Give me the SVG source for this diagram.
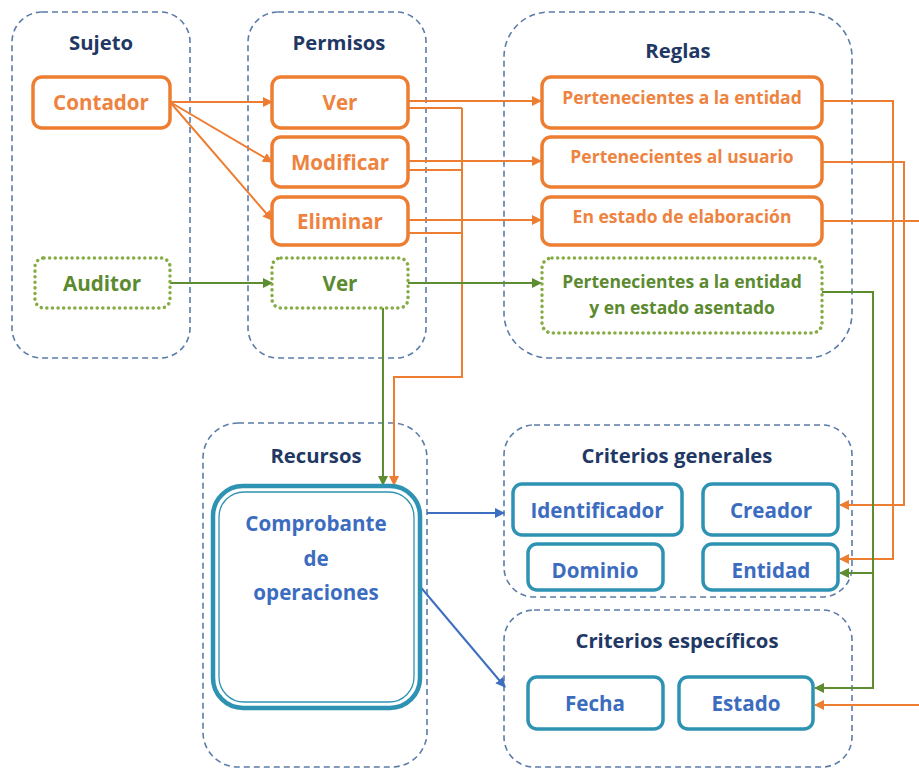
<svg xmlns="http://www.w3.org/2000/svg" width="919" height="769" viewBox="0 0 919 769">
<style>
text{font-family:"Open Sans",Lato,"Liberation Sans",sans-serif;font-weight:bold;text-anchor:middle;dominant-baseline:central}
.cont{fill:none;stroke:#5b7ca8;stroke-width:1.6;stroke-dasharray:6 4}
.title{fill:#1f3864;font-size:20.3px}
.on{fill:#fff;stroke:#ed7d31;stroke-width:3.5}
.ot{fill:#ee8340;font-size:20.6px}
.ot2{fill:#ee8340;font-size:17.5px}
.gn{fill:#fff;stroke:#86ad45;stroke-width:3.5;stroke-dasharray:0.1 5.5;stroke-linecap:round}
.gt{fill:#5b8a2f;font-size:20.6px}
.gt2{fill:#5b8a2f;font-size:17.5px}
.tn{fill:#fff;stroke:#2e92b3;stroke-width:3.5}
.tt{fill:#3c6cbf;font-size:20.6px}
.co{fill:none;stroke:#ed7d31;stroke-width:2}
.cg{fill:none;stroke:#5e8c31;stroke-width:2}
.cb{fill:none;stroke:#3c6fc0;stroke-width:2}
</style>
<defs>
<marker id="ao" viewBox="0 0 10 10" refX="9" refY="5" markerWidth="5" markerHeight="5" orient="auto" markerUnits="strokeWidth"><path d="M0,0L10,5L0,10z" fill="#ed7d31"/></marker>
<marker id="ag" viewBox="0 0 10 10" refX="9" refY="5" markerWidth="5" markerHeight="5" orient="auto" markerUnits="strokeWidth"><path d="M0,0L10,5L0,10z" fill="#5e8c31"/></marker>
<marker id="ab" viewBox="0 0 10 10" refX="9" refY="5" markerWidth="5" markerHeight="5" orient="auto" markerUnits="strokeWidth"><path d="M0,0L10,5L0,10z" fill="#3c6fc0"/></marker>
</defs>
<rect width="919" height="769" fill="#fff"/>

<g id="sujeto">
<rect class="cont" x="12" y="12" width="178" height="346" rx="30"/>
<text class="title" x="101" y="42">Sujeto</text>
</g>
<g id="permisos">
<rect class="cont" x="248" y="12" width="178" height="346" rx="30"/>
<text class="title" x="339" y="42">Permisos</text>
</g>
<g id="reglas">
<rect class="cont" x="504" y="12" width="348" height="346" rx="45"/>
<text class="title" x="678" y="50">Reglas</text>
</g>
<g id="recursos">
<rect class="cont" x="203" y="423" width="224" height="344" rx="35"/>
<text class="title" x="316" y="455">Recursos</text>
</g>
<g id="criterios-generales">
<rect class="cont" x="504" y="425" width="348" height="172" rx="30"/>
<text class="title" x="677" y="455">Criterios generales</text>
</g>
<g id="criterios-especificos">
<rect class="cont" x="504" y="610" width="348" height="157" rx="30"/>
<text class="title" x="677" y="640">Criterios específicos</text>
</g>

<g id="connectors">
<line class="co" x1="170" y1="102" x2="272" y2="102" marker-end="url(#ao)"/>
<line class="co" x1="170" y1="102" x2="272" y2="162" marker-end="url(#ao)"/>
<line class="co" x1="170" y1="102" x2="272" y2="220" marker-end="url(#ao)"/>
<line class="co" x1="408" y1="101" x2="541" y2="101" marker-end="url(#ao)"/>
<line class="co" x1="408" y1="161" x2="541" y2="161" marker-end="url(#ao)"/>
<line class="co" x1="408" y1="220" x2="541" y2="220" marker-end="url(#ao)"/>
<path class="co" d="M408,108H462M408,170H462M408,233H462"/>
<path class="co" d="M462,108V377H394V485" marker-end="url(#ao)"/>
<line class="cg" x1="170" y1="283" x2="272" y2="283" marker-end="url(#ag)"/>
<line class="cg" x1="408" y1="283" x2="541" y2="283" marker-end="url(#ag)"/>
<path class="cg" d="M383,308V485" marker-end="url(#ag)"/>
<line class="cb" x1="427" y1="513" x2="504" y2="513" marker-end="url(#ab)"/>
<line class="cb" x1="418" y1="584" x2="505" y2="687" marker-end="url(#ab)"/>
<path class="co" d="M822,101H893V559H840" marker-end="url(#ao)"/>
<path class="co" d="M822,162H904V505H840" marker-end="url(#ao)"/>
<path class="co" d="M822,221H925V705H815" marker-end="url(#ao)"/>
<path class="cg" d="M822,292H873V688H815" marker-end="url(#ag)"/>
<path class="cg" d="M873,573H840" marker-end="url(#ag)"/>
</g>

<g id="contador"><rect class="on" x="33" y="77" width="137" height="51" rx="9"/><text class="ot" x="101" y="102">Contador</text></g>
<g id="auditor"><rect class="gn" x="35" y="258" width="135" height="50" rx="9"/><text class="gt" x="102" y="283">Auditor</text></g>
<g id="ver"><rect class="on" x="272" y="77" width="136" height="51" rx="9"/><text class="ot" x="340" y="102">Ver</text></g>
<g id="modificar"><rect class="on" x="272" y="137" width="136" height="50" rx="9"/><text class="ot" x="340" y="162">Modificar</text></g>
<g id="eliminar"><rect class="on" x="272" y="197" width="136" height="48" rx="9"/><text class="ot" x="340" y="221">Eliminar</text></g>
<g id="ver-auditor"><rect class="gn" x="272" y="258" width="136" height="50" rx="9"/><text class="gt" x="340" y="283">Ver</text></g>

<g id="regla-entidad"><rect class="on" x="542" y="77" width="280" height="51" rx="9"/><text class="ot2" x="682" y="97">Pertenecientes a la entidad</text></g>
<g id="regla-usuario"><rect class="on" x="542" y="137" width="280" height="50" rx="9"/><text class="ot2" x="682" y="156">Pertenecientes al usuario</text></g>
<g id="regla-elaboracion"><rect class="on" x="542" y="197" width="280" height="48" rx="9"/><text class="ot2" x="682" y="216">En estado de elaboración</text></g>
<g id="regla-asentado"><rect class="gn" x="542" y="258" width="280" height="75" rx="10"/><text class="gt2" x="682" y="281">Pertenecientes a la entidad</text><text class="gt2" x="682" y="307">y en estado asentado</text></g>

<g id="comprobante">
<rect x="213" y="486" width="207" height="222" rx="30" fill="#fff" stroke="#2e92b3" stroke-width="4.5"/>
<rect x="219" y="492" width="195" height="210" rx="25" fill="none" stroke="#2e92b3" stroke-width="1.3"/>
<text class="tt" x="316" y="523">Comprobante</text>
<text class="tt" x="316" y="558">de</text>
<text class="tt" x="316" y="592">operaciones</text>
</g>

<g id="identificador"><rect class="tn" x="513" y="484" width="169" height="51" rx="9"/><text class="tt" x="597" y="510">Identificador</text></g>
<g id="creador"><rect class="tn" x="703" y="484" width="135" height="51" rx="9"/><text class="tt" x="771" y="510">Creador</text></g>
<g id="dominio"><rect class="tn" x="528" y="544" width="135" height="46" rx="9"/><text class="tt" x="595" y="570">Dominio</text></g>
<g id="entidad"><rect class="tn" x="703" y="544" width="135" height="46" rx="9"/><text class="tt" x="771" y="570">Entidad</text></g>
<g id="fecha"><rect class="tn" x="528" y="677" width="135" height="52" rx="9"/><text class="tt" x="595" y="703">Fecha</text></g>
<g id="estado"><rect class="tn" x="679" y="677" width="134" height="52" rx="9"/><text class="tt" x="746" y="703">Estado</text></g>
</svg>
